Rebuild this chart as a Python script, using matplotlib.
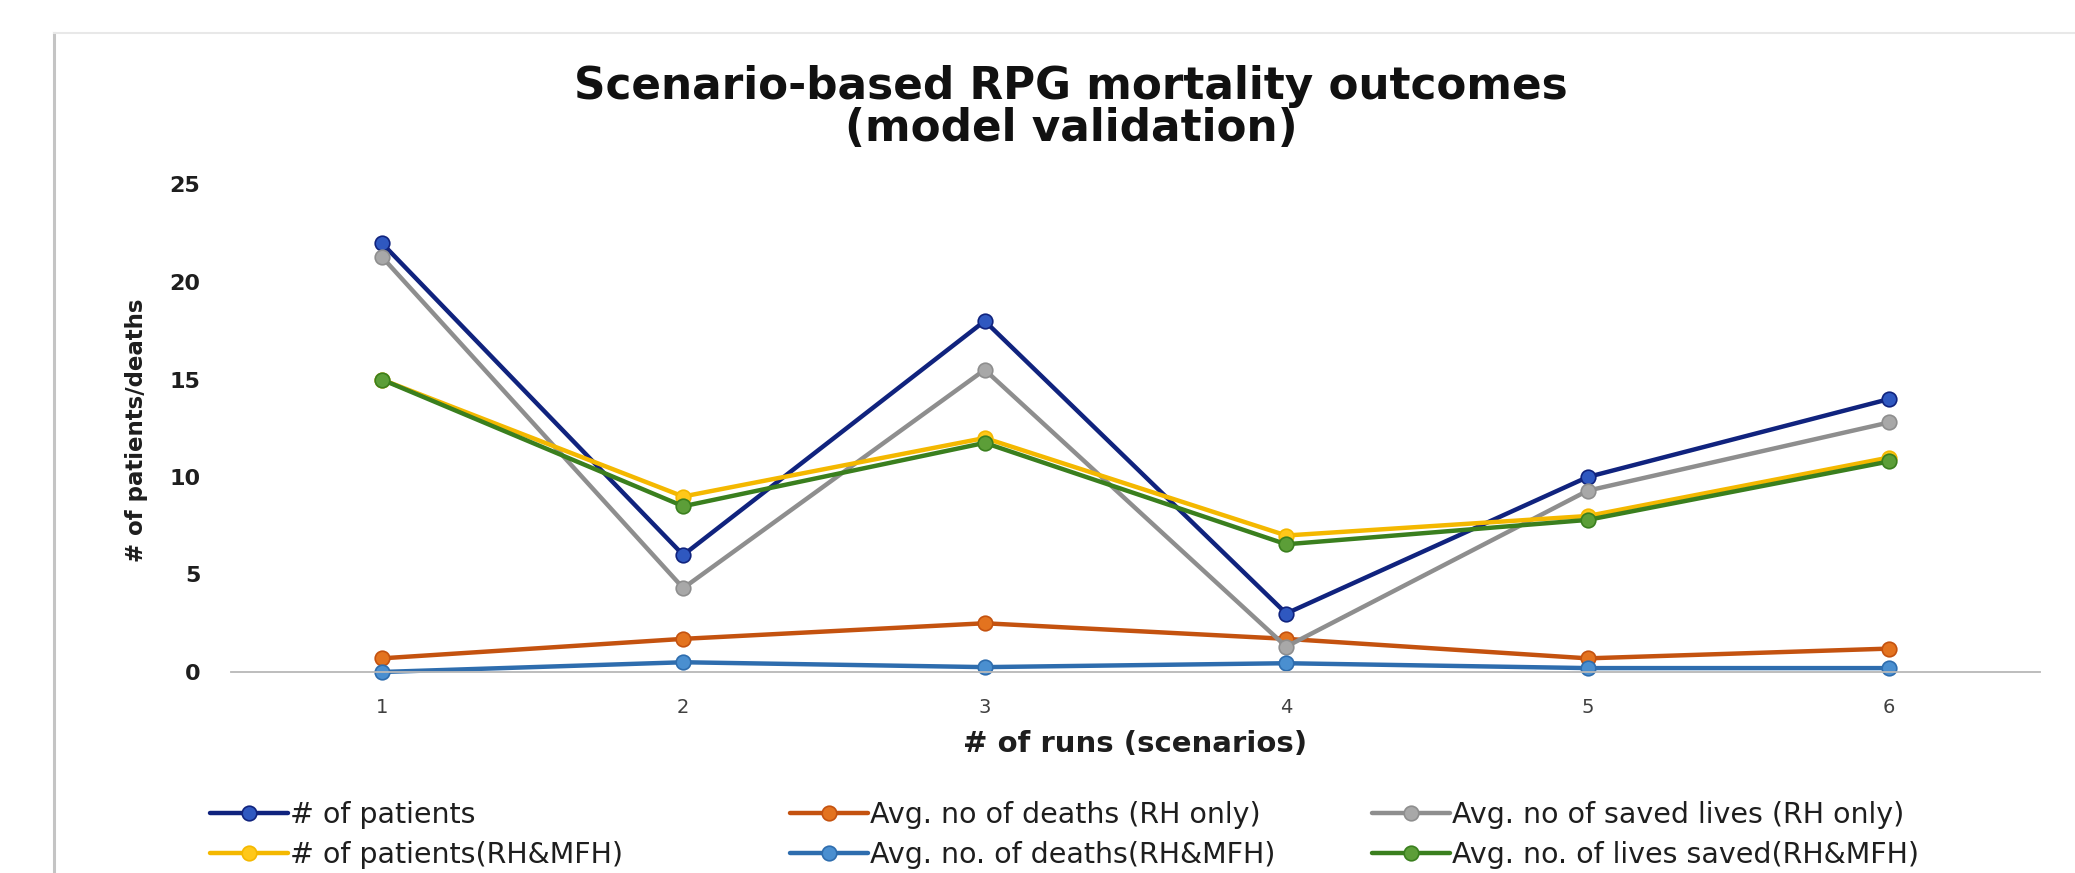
import matplotlib
matplotlib.use("Agg")
import matplotlib.pyplot as plt
from matplotlib.lines import Line2D

# ---- data ----
runs = [1, 2, 3, 4, 5, 6]
run_labels = ["1", "2", "3", "4", "5", "6"]
patients = [22, 6, 18, 3, 10, 14]
deaths_rh = [0.7, 1.7, 2.5, 1.7, 0.7, 1.2]
saved_rh = [21.3, 4.3, 15.5, 1.3, 9.3, 12.8]
patients_mfh = [15, 9, 12, 7, 8, 11]
deaths_mfh = [0, 0.5, 0.25, 0.45, 0.2, 0.2]
saved_mfh = [15, 8.5, 11.75, 6.55, 7.8, 10.8]

series_names = ["# of patients", "Avg. no of deaths (RH only)", "Avg. no of saved lives (RH only)",
                "# of patients(RH&MFH)", "Avg. no. of deaths(RH&MFH)", "Avg. no. of lives saved(RH&MFH)"]
series_values = [patients, deaths_rh, saved_rh, patients_mfh, deaths_mfh, saved_mfh]
line_colors = ["#10237E", "#C4520F", "#8E8E8E", "#F4B800", "#2E6DAE", "#3A7F1E"]
marker_colors = ["#2F58C0", "#E3731F", "#A8A8A8", "#FFC81A", "#4A8FD0", "#5C9E38"]
y_ticks = [0, 5, 10, 15, 20, 25]

W, H = 2075, 873
fig = plt.figure(figsize=(W / 100, H / 100), dpi=100)
fig.patch.set_facecolor("white")

# chart-area frame (left and top edges visible)
fig.add_artist(Line2D([54 / W, 54 / W], [0, 1 - 33 / H], transform=fig.transFigure,
                      color="#C4C4C4", lw=2.2))
fig.add_artist(Line2D([54 / W, 1], [1 - 33 / H, 1 - 33 / H], transform=fig.transFigure,
                      color="#E8E8E8", lw=1.5))

ax = fig.add_axes([231 / W, 1 - 672 / H, 1809 / W, 487.5 / H])
handles = []
for name, vals, lc, mc in zip(series_names, series_values, line_colors, marker_colors):
    h, = ax.plot(runs, vals, color=lc, lw=3.2, marker="o", markersize=10.5,
                 markerfacecolor=mc, markeredgecolor=lc, markeredgewidth=1.2,
                 label=name, clip_on=False, solid_capstyle="round")
    handles.append(h)

ax.set_xlim(0.5, 6.5)
ax.set_ylim(0, 25)
ax.set_yticks(y_ticks)
ax.set_yticklabels([str(t) for t in y_ticks], fontsize=16, fontweight="bold", color="#1E1E1E")
ax.set_xticks(runs)
ax.set_xticklabels(run_labels, fontsize=14, color="#404040")
ax.tick_params(axis="y", length=0, pad=22)
ax.tick_params(axis="x", length=0, pad=19)
for s in ["left", "right", "top"]:
    ax.spines[s].set_visible(False)
ax.spines["bottom"].set_color("#B8B8B8")
ax.spines["bottom"].set_linewidth(1.3)
ax.set_facecolor("none")

ax.set_xlabel("# of runs (scenarios)", fontsize=21, fontweight="bold", color="#1E1E1E", labelpad=9)
fig.text(136 / W, 1 - 430 / H, "# of patients/deaths", rotation=90, ha="center", va="center",
         fontsize=16.5, fontweight="bold", color="#1E1E1E")

# title
fig.text(1071 / W, 1 - 99 / H, "Scenario-based RPG mortality outcomes", ha="center", va="baseline",
         fontsize=31.5, fontweight="bold", color="#111111")
fig.text(1071 / W, 1 - 141 / H, "(model validation)", ha="center", va="baseline",
         fontsize=31.5, fontweight="bold", color="#111111")

# legend: three columns, two rows (row-wise order)
col_x = [210, 790, 1372]
for i, x in enumerate(col_x):
    leg = fig.legend(handles=[handles[i], handles[i + 3]], loc="center left",
                     bbox_to_anchor=(x / W, 1 - 835 / H), frameon=False, fontsize=20.5,
                     handlelength=2.75, handletextpad=0.07, borderpad=0, borderaxespad=0,
                     labelspacing=0.42)
    for t in leg.get_texts():
        t.set_color("#1E1E1E")

fig.savefig("out.png", dpi=100, facecolor="white")
